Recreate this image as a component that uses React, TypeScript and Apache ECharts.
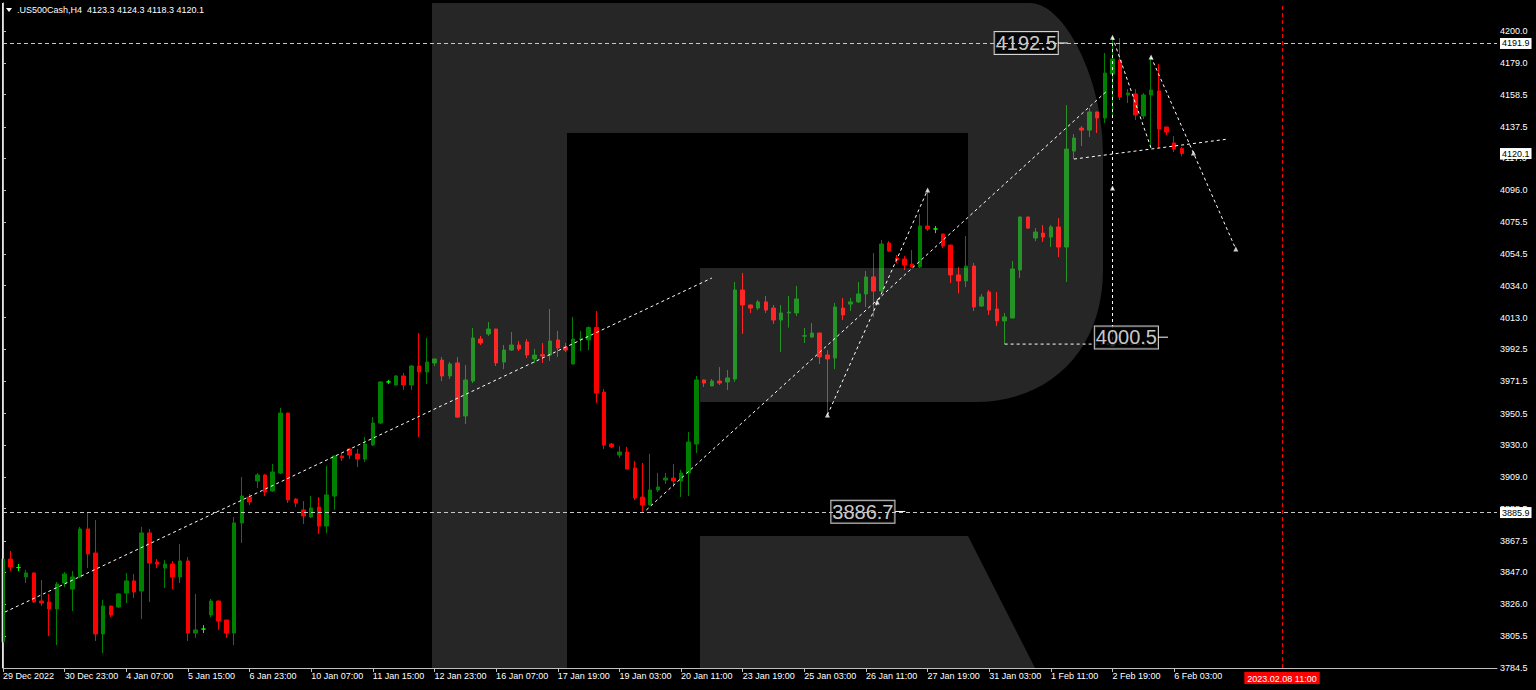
import React, { useEffect, useRef } from "react";
import * as echarts from "echarts";

const FONT = "Liberation Sans";
const GREEN = "#008000";
const RED = "#ff0000";
const LIME = "#00ff00";

const symbolTitle = ".US500Cash,H4  4123.3 4124.3 4118.3 4120.1";

const xTickLabels = [
  "29 Dec 2022", "30 Dec 23:00", "4 Jan 07:00", "5 Jan 15:00", "6 Jan 23:00",
  "10 Jan 07:00", "11 Jan 15:00", "12 Jan 23:00", "16 Jan 07:00", "17 Jan 19:00",
  "19 Jan 03:00", "20 Jan 11:00", "23 Jan 19:00", "25 Jan 03:00", "26 Jan 11:00",
  "27 Jan 19:00", "31 Jan 03:00", "1 Feb 11:00", "2 Feb 19:00", "6 Feb 03:00",
];
const xTickEvery = 8;

const yTickLabels = [
  "3784.5", "3805.5", "3826.0", "3847.0", "3867.5", "3888.5", "3909.0", "3930.0",
  "3950.5", "3971.5", "3992.5", "4013.0", "4034.0", "4054.5", "4075.5", "4096.0",
  "4117.0", "4137.5", "4158.5", "4179.0", "4200.0",
];

const opens = [
  3801.5, 3855.6, 3850.0, 3843.9, 3846.5, 3828.2, 3827.6, 3823.0, 3839.9, 3836.0,
  3843.9, 3875.2, 3859.5, 3806.7, 3824.9, 3824.3, 3833.4, 3841.3, 3834.7, 3872.6,
  3853.6, 3849.7, 3852.3, 3843.9, 3854.3, 3807.3, 3809.9, 3819.1, 3828.2, 3815.8,
  3807.3, 3879.1, 3896.0, 3906.5, 3910.4, 3900.0, 3911.7, 3950.8, 3894.7, 3887.6,
  3883.0, 3889.5, 3877.1, 3896.7, 3922.8, 3927.4, 3924.1, 3920.8, 3930.0, 3944.3,
  3971.1, 3969.1, 3975.0, 3969.1, 3981.5, 3977.6, 3983.5, 3985.4, 3975.0, 3983.5,
  3948.9, 3971.7, 3999.1, 4002.4, 4005.6, 3984.1, 3991.9, 3995.2, 3997.2, 3986.1,
  3988.9, 3988.6, 3998.5, 3993.9, 3982.8, 3999.0, 3998.5, 4006.6, 3964.5, 3930.6,
  3923.4, 3925.4, 3915.0, 3896.0, 3890.8, 3900.6, 3907.1, 3908.4, 3906.5, 3911.7,
  3930.6, 3972.4, 3968.5, 3971.7, 3971.1, 3973.0, 4031.1, 4021.3, 4019.3, 4023.3,
  4019.3, 4011.5, 4016.1, 4016.1, 4001.0, 4000.4, 4003.0, 3988.7, 3986.7, 4019.3,
  4021.9, 4023.3, 4028.5, 4039.6, 4030.4, 4061.7, 4051.9, 4051.3, 4048.0, 4046.1,
  4072.8, 4070.9, 4067.6, 4060.4, 4040.9, 4037.0, 4046.7, 4020.6, 4029.8, 4018.7,
  4010.9, 4012.8, 4044.1, 4078.7, 4065.0, 4068.2, 4065.6, 4072.2, 4059.1, 4121.7,
  4136.7, 4135.4, 4147.2, 4143.3, 4172.0, 4181.1, 4158.3, 4159.0, 4144.6, 4158.3,
  4160.9, 4137.4, 4127.0, 4123.3,
];
const highs = [
  3859.5, 3860.8, 3852.3, 3848.4, 3846.8, 3841.9, 3832.8, 3840.6, 3847.1, 3847.8,
  3876.5, 3886.3, 3881.0, 3828.9, 3825.2, 3833.4, 3846.5, 3845.8, 3876.5, 3875.2,
  3855.6, 3855.0, 3854.3, 3865.4, 3856.9, 3832.8, 3812.5, 3829.5, 3828.5, 3816.0,
  3883.0, 3909.1, 3898.0, 3911.7, 3911.0, 3917.6, 3954.1, 3951.1, 3895.4, 3893.4,
  3896.7, 3896.0, 3916.3, 3923.0, 3924.7, 3927.6, 3927.4, 3935.2, 3948.2, 3971.7,
  3972.4, 3975.6, 3976.9, 3982.1, 4003.0, 3999.8, 3986.3, 3987.4, 3984.1, 3987.4,
  3982.1, 4006.3, 4001.1, 4010.2, 4005.8, 3995.2, 4003.7, 3997.8, 3999.1, 3992.6,
  3996.5, 4018.7, 4004.4, 3996.5, 4013.5, 4004.4, 4007.3, 4017.4, 3966.5, 3931.3,
  3929.3, 3928.7, 3919.5, 3918.2, 3924.1, 3911.7, 3911.7, 3917.6, 3913.7, 3938.4,
  3975.0, 3972.6, 3973.0, 3980.8, 3978.9, 4036.3, 4042.2, 4021.5, 4024.6, 4027.2,
  4021.3, 4021.3, 4027.2, 4033.7, 4006.3, 4009.5, 4003.2, 3991.9, 4022.6, 4025.9,
  4025.9, 4036.3, 4043.5, 4055.2, 4063.7, 4063.0, 4053.9, 4053.2, 4057.2, 4080.6,
  4096.3, 4072.8, 4067.8, 4060.6, 4046.1, 4066.3, 4048.7, 4028.5, 4031.1, 4029.8,
  4016.1, 4050.0, 4079.0, 4079.0, 4071.5, 4073.5, 4073.5, 4078.0, 4151.7, 4132.8,
  4138.0, 4149.8, 4147.4, 4185.7, 4196.0, 4195.3, 4162.2, 4162.2, 4159.6, 4183.1,
  4178.5, 4137.6, 4131.5, 4124.3,
];
const lows = [
  3800.8, 3847.8, 3847.8, 3839.9, 3826.9, 3824.9, 3805.4, 3799.5, 3837.3, 3821.7,
  3843.2, 3849.7, 3802.1, 3794.3, 3817.8, 3823.8, 3826.9, 3830.2, 3816.5, 3827.6,
  3849.7, 3836.7, 3836.0, 3839.9, 3802.1, 3804.1, 3807.3, 3817.8, 3809.3, 3804.1,
  3799.5, 3866.0, 3890.8, 3901.9, 3896.7, 3899.3, 3911.0, 3892.1, 3889.5, 3878.4,
  3882.3, 3871.9, 3872.6, 3887.6, 3919.5, 3920.8, 3915.6, 3918.9, 3929.3, 3943.6,
  3969.8, 3968.5, 3965.8, 3965.8, 3935.2, 3969.8, 3981.5, 3971.7, 3973.0, 3947.6,
  3943.7, 3970.4, 3995.2, 4001.1, 3981.5, 3979.5, 3991.3, 3991.3, 3986.7, 3983.5,
  3983.5, 3984.8, 3987.4, 3990.6, 3982.6, 3991.3, 3991.9, 3957.4, 3927.4, 3928.0,
  3921.5, 3914.0, 3894.1, 3886.0, 3890.5, 3899.3, 3904.5, 3902.6, 3896.0, 3896.7,
  3924.7, 3967.8, 3968.3, 3969.1, 3965.8, 3971.1, 4002.4, 4016.1, 4018.0, 4016.1,
  4008.9, 3990.6, 4006.6, 4014.1, 3996.5, 3999.8, 3982.8, 3949.5, 3979.5, 4011.5,
  4017.4, 4022.6, 4020.0, 4013.5, 4029.8, 4055.9, 4048.7, 4044.1, 4046.0, 4045.4,
  4069.5, 4068.2, 4058.5, 4035.6, 4028.9, 4033.0, 4017.4, 4020.0, 4014.8, 4007.6,
  3995.8, 4012.6, 4038.9, 4070.9, 4063.0, 4062.4, 4059.1, 4052.6, 4036.3, 4116.5,
  4125.0, 4130.9, 4133.5, 4140.0, 4145.2, 4155.0, 4153.0, 4142.0, 4142.6, 4123.7,
  4123.7, 4132.2, 4121.1, 4118.3,
];
const closes = [
  3855.6, 3850.4, 3850.0, 3846.5, 3827.6, 3826.9, 3823.0, 3839.3, 3845.8, 3843.9,
  3875.2, 3858.9, 3806.7, 3824.9, 3819.1, 3832.8, 3841.3, 3834.1, 3872.6, 3853.0,
  3852.3, 3852.3, 3843.9, 3854.3, 3807.3, 3809.3, 3809.9, 3828.2, 3815.2, 3807.3,
  3879.1, 3896.7, 3892.8, 3910.4, 3899.3, 3912.4, 3950.8, 3894.1, 3892.1, 3883.7,
  3888.9, 3877.1, 3897.4, 3922.8, 3921.5, 3923.4, 3920.8, 3930.6, 3944.3, 3971.1,
  3971.1, 3975.0, 3969.1, 3981.5, 3977.6, 3984.1, 3986.1, 3975.0, 3982.8, 3948.2,
  3972.4, 3999.8, 3996.5, 4005.6, 3983.5, 3991.9, 3995.2, 3992.6, 3988.7, 3988.6,
  3988.0, 3997.8, 3993.2, 3991.9, 3999.1, 3999.2, 4006.6, 3963.9, 3930.0, 3928.7,
  3925.4, 3914.3, 3895.4, 3890.8, 3900.6, 3902.6, 3908.4, 3906.5, 3911.7, 3931.9,
  3972.4, 3970.4, 3971.7, 3970.4, 3973.7, 4031.1, 4021.3, 4019.3, 4023.3, 4018.0,
  4011.5, 4016.1, 4016.7, 4025.2, 4001.2, 4003.0, 3987.4, 3986.1, 4020.0, 4014.8,
  4023.3, 4028.5, 4039.6, 4030.4, 4061.1, 4056.5, 4050.6, 4047.4, 4046.1, 4072.8,
  4070.9, 4070.9, 4059.8, 4040.9, 4037.0, 4046.7, 4020.0, 4026.5, 4018.0, 4010.9,
  4013.5, 4044.8, 4078.7, 4071.5, 4068.9, 4065.6, 4072.2, 4059.1, 4123.0, 4130.2,
  4135.4, 4147.2, 4143.3, 4172.6, 4181.8, 4157.0, 4159.6, 4145.2, 4158.3, 4161.5,
  4136.1, 4134.1, 4123.0, 4120.1,
];

// annotation lines, in [bar index, price]
const trendLines = [
  [[0.26, 3821.0], [92.0, 4038.9]],
  [[83.5, 3887.6], [143.4, 4161.5]],
  [[107, 3949.5], [120, 4096.3]],
  [[144, 4196.0], [149, 4123.7]],
  [[149, 4183.1], [160, 4057.8]],
  [[139, 4116.5], [158.9, 4129.5]],
  [[144, 4192.2], [144, 3995.8]],
  [[130, 3995.8], [150.2, 3995.8]],
];
const labelStubs = [
  [[136.9, 4192.2], [138.2, 4192.2]],
  [[115.8, 3886.6], [117.1, 3886.6]],
  [[149.9, 4000.3], [151.2, 4000.3]],
];
const anchorPoints = [
  [107, 3949.5], [120, 4096.3], [113.45, 4023.3], [144, 4196.0], [149, 4183.1],
  [144, 4097.6], [144, 3995.8], [154.5, 4120.4], [160, 4057.8],
];
const boxLabels = ["4192.5", "3886.7", "4000.5"];
const boxLabelPos = [[132.8, 4192.2], [111.6, 3886.4], [145.8, 4000.1]];

const levelLines = [4191.9, 3885.9];
const lastPrice = 4120.1;
const futureLineX = 166;
const futureLineLabel = "2023.02.08 11:00";

const LOGO_D =
  "M432,3 L1030,3 C1065,3 1103,80 1103,153 L1103,270 C1103,350 1050,402 975,402 " +
  "L700,402 L700,268 L968,268 L968,133 L567,133 L567,668 L432,668 Z " +
  "M700,536 L968,536 L1035,668 L700,668 Z";

let logoRegistered = false;

export default function App() {
  const ref = useRef<HTMLDivElement>(null);

  useEffect(() => {
    if (!ref.current) return;
    if (!logoRegistered) {
      echarts.graphic.registerShape("rlogo", echarts.graphic.extendPath(LOGO_D, {}) as any);
      logoRegistered = true;
    }
    const chart = echarts.init(ref.current, undefined, { renderer: "svg" });

    const candleData = opens.map((o, i) => {
      const v = [i, o, closes[i], lows[i], highs[i]];
      if (o === closes[i]) {
        return {
          value: v,
          itemStyle: { color: LIME, color0: LIME, borderColor: LIME, borderColor0: LIME },
        };
      }
      return v;
    });

    const xTickValues = xTickLabels.map((_, i) => i * xTickEvery);
    const yTickValues = yTickLabels.map((s) => parseFloat(s));

    const lineSeries: any[] = trendLines.map((pts) => ({
      type: "line",
      data: pts,
      symbol: "none",
      silent: true,
      z: 3,
      lineStyle: { color: "#ffffff", width: 1, type: [3, 3] },
    }));
    labelStubs.forEach((pts) =>
      lineSeries.push({
        type: "line",
        data: pts,
        symbol: "none",
        silent: true,
        z: 9,
        lineStyle: { color: "#ffffff", width: 1 },
      })
    );

    const option: any = {
      animation: false,
      backgroundColor: "#000000",
      grid: { left: 3, right: 39, top: 3, bottom: 22, outerBoundsMode: "none" },
      xAxis: {
        type: "value",
        min: 0,
        max: 193.9,
        splitLine: { show: false },
        axisLine: { show: true, lineStyle: { color: "#c0c0c0" } },
        axisTick: { show: true, length: 4, customValues: xTickValues, lineStyle: { color: "#c0c0c0" } },
        axisLabel: {
          customValues: xTickValues,
          color: "#ffffff",
          fontSize: 9,
          fontFamily: FONT,
          align: "left",
          margin: 3,
          formatter: (v: number) => {
            const k = Math.round(v / xTickEvery);
            return k >= 0 && k < xTickLabels.length ? xTickLabels[k] : "";
          },
        },
      },
      yAxis: {
        type: "value",
        position: "right",
        min: 3784.5,
        max: 4218.3,
        splitLine: { show: false },
        axisLine: { show: true, lineStyle: { color: "#c0c0c0" } },
        axisTick: { show: true, length: 3, customValues: yTickValues, lineStyle: { color: "#c0c0c0" } },
        axisLabel: {
          customValues: yTickValues,
          color: "#ffffff",
          fontSize: 9,
          fontFamily: FONT,
          margin: 3,
          formatter: (v: number) => v.toFixed(1),
        },
      },
      graphic: [
        {
          type: "rlogo",
          x: 0,
          y: 0,
          z: 5,
          silent: true,
          style: { fill: "rgba(255,255,255,0.15)" },
        },
        {
          type: "line",
          z: 6,
          silent: true,
          shape: { x1: 2.5, y1: 3, x2: 2.5, y2: 668 },
          style: { stroke: "#e6e6e6", lineWidth: 1 },
        },
        {
          type: "polygon",
          z: 6,
          silent: true,
          shape: { points: [[6, 8], [12, 8], [9, 12]] },
          style: { fill: "#ffffff" },
        },
        {
          type: "text",
          z: 6,
          silent: true,
          x: 17,
          y: 5,
          style: { text: symbolTitle, fill: "#ffffff", font: `9px "${FONT}"` },
        },
      ],
      series: [
        {
          type: "candlestick",
          data: candleData,
          encode: { x: 0, y: [1, 2, 3, 4] },
          barWidth: 4,
          clip: false,
          z: 2,
          itemStyle: {
            color: GREEN,
            color0: RED,
            borderColor: GREEN,
            borderColor0: RED,
            borderWidth: 1,
          },
          markLine: {
            symbol: ["none", "none"],
            silent: true,
            animation: false,
            z: 11,
            label: {
              show: true,
              position: "end",
              distance: 3,
              color: "#000000",
              backgroundColor: "#ffffff",
              padding: [1, 2, 1, 2],
              fontSize: 9,
              fontFamily: FONT,
              formatter: (p: any) => Number(p.value).toFixed(1),
            },
            lineStyle: { color: "#c8c8c8", type: [4, 3], width: 1 },
            data: [
              ...levelLines.map((v) => ({ yAxis: v })),
              { yAxis: lastPrice, lineStyle: { color: "rgba(0,0,0,0)", width: 0 } },
              {
                xAxis: futureLineX,
                lineStyle: { color: "#ff0000", type: [4, 3], width: 1 },
                label: {
                  position: "start",
                  distance: 4,
                  color: "#ffffff",
                  backgroundColor: "#ff0000",
                  padding: [2, 3, 1, 3],
                  formatter: futureLineLabel,
                },
              },
            ],
          },
        },
        ...lineSeries,
        {
          type: "scatter",
          data: anchorPoints,
          symbol: "triangle",
          symbolSize: 5,
          silent: true,
          z: 4,
          itemStyle: { color: "#ffffff" },
        },
        {
          type: "scatter",
          data: boxLabelPos,
          symbolSize: 1,
          silent: true,
          z: 10,
          itemStyle: { color: "rgba(0,0,0,0)" },
          label: {
            show: true,
            position: "inside",
            formatter: (p: any) => boxLabels[p.dataIndex],
            color: "#ffffff",
            fontSize: 20,
            fontFamily: FONT,
            lineHeight: 21,
            backgroundColor: "#000000",
            borderColor: "#ffffff",
            borderWidth: 1,
            padding: [1, 1, 0, 1],
          },
        },
      ],
    };

    chart.setOption(option);
    return () => chart.dispose();
  }, []);

  return (
    <div
      ref={ref}
      style={{ position: "fixed", left: 0, top: 0, width: 1536, height: 690, background: "#000" }}
    />
  );
}
